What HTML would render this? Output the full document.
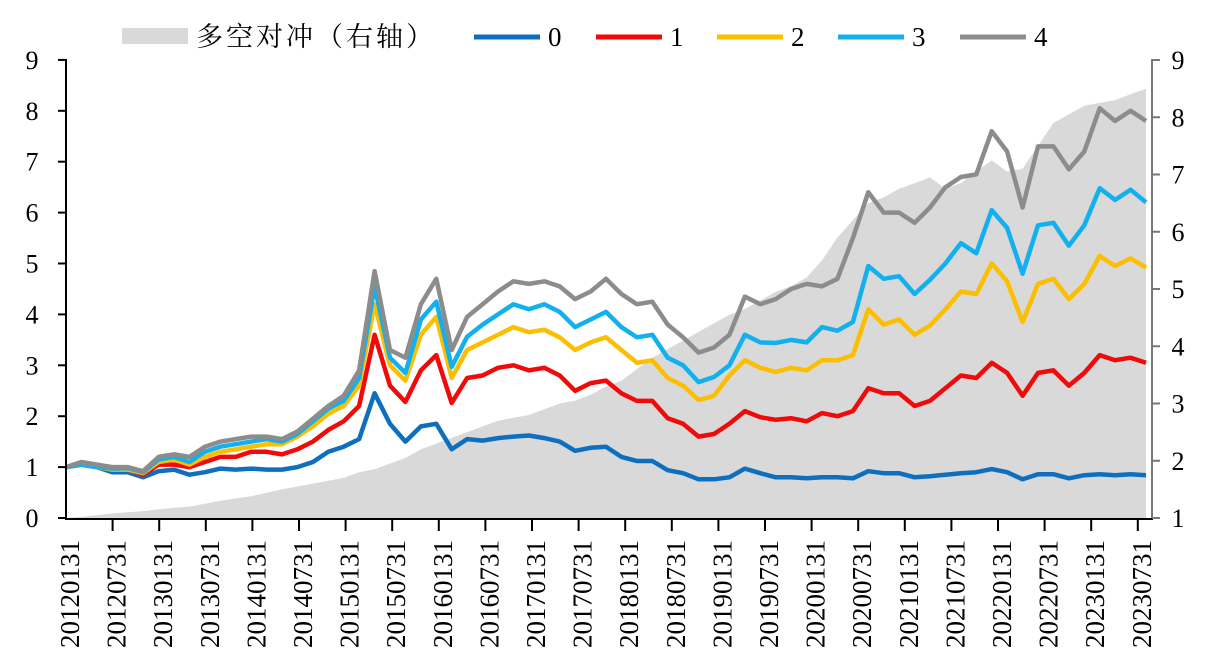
<!DOCTYPE html>
<html><head><meta charset="utf-8"><style>
body{margin:0;background:#fff;}
svg{display:block;font-family:"Liberation Serif","Noto Serif CJK SC",serif;}
</style></head><body>
<svg id="chart" width="1212" height="672"></svg>
<script>
const dateLabels=["20120131","20120731","20130131","20130731","20140131","20140731","20150131","20150731","20160131","20160731","20170131","20170731","20180131","20180731","20190131","20190731","20200131","20200731","20210131","20210731","20220131","20220731","20230131","20230731"];
const leftTicks=[0,1,2,3,4,5,6,7,8,9];
const rightTicks=[1,2,3,4,5,6,7,8,9];
const hedge=[1.0,1.02,1.05,1.08,1.1,1.12,1.15,1.18,1.2,1.25,1.3,1.34,1.38,1.44,1.5,1.55,1.6,1.65,1.7,1.8,1.85,1.95,2.05,2.2,2.3,2.4,2.5,2.6,2.7,2.75,2.8,2.9,3.0,3.05,3.15,3.3,3.4,3.6,3.8,3.95,4.1,4.25,4.4,4.55,4.65,4.8,4.95,5.05,5.2,5.5,5.9,6.2,6.5,6.6,6.75,6.85,6.95,6.75,6.85,7.05,7.25,7.05,7.1,7.5,7.9,8.05,8.2,8.25,8.3,8.4,8.5];
const s0=[1.0,1.05,1.0,0.9,0.9,0.8,0.92,0.95,0.85,0.9,0.97,0.95,0.97,0.95,0.95,1.0,1.1,1.3,1.4,1.55,2.45,1.85,1.5,1.8,1.85,1.35,1.55,1.52,1.57,1.6,1.62,1.57,1.5,1.32,1.38,1.4,1.2,1.12,1.12,0.94,0.88,0.76,0.76,0.8,0.97,0.88,0.8,0.8,0.78,0.8,0.8,0.78,0.92,0.88,0.88,0.8,0.82,0.85,0.88,0.9,0.96,0.9,0.76,0.86,0.86,0.78,0.84,0.86,0.84,0.86,0.84];
const s1=[1.0,1.05,1.0,0.95,0.95,0.85,1.05,1.05,1.0,1.1,1.2,1.2,1.3,1.3,1.25,1.35,1.5,1.73,1.9,2.2,3.6,2.6,2.28,2.9,3.2,2.26,2.75,2.8,2.95,3.0,2.9,2.95,2.8,2.5,2.65,2.7,2.45,2.3,2.3,1.96,1.85,1.6,1.65,1.85,2.1,1.98,1.93,1.96,1.9,2.06,2.0,2.1,2.55,2.45,2.45,2.2,2.3,2.55,2.8,2.75,3.05,2.85,2.4,2.85,2.9,2.6,2.85,3.2,3.1,3.15,3.05];
const s2=[1.0,1.05,1.0,0.95,0.95,0.88,1.1,1.15,1.05,1.2,1.3,1.35,1.4,1.45,1.45,1.6,1.8,2.05,2.2,2.6,4.2,3.0,2.7,3.6,3.95,2.75,3.3,3.45,3.6,3.75,3.65,3.7,3.55,3.3,3.45,3.55,3.3,3.05,3.1,2.75,2.6,2.32,2.4,2.8,3.1,2.95,2.87,2.95,2.9,3.1,3.1,3.2,4.1,3.8,3.9,3.6,3.78,4.1,4.45,4.4,5.0,4.65,3.85,4.6,4.7,4.3,4.6,5.15,4.95,5.1,4.92];
const s3=[1.0,1.05,1.0,0.97,0.98,0.9,1.15,1.2,1.1,1.3,1.4,1.45,1.5,1.55,1.5,1.65,1.9,2.15,2.3,2.75,4.55,3.15,2.85,3.9,4.25,2.97,3.56,3.8,4.0,4.2,4.1,4.2,4.05,3.75,3.9,4.05,3.75,3.55,3.6,3.15,3.0,2.67,2.77,3.0,3.6,3.45,3.44,3.5,3.45,3.75,3.68,3.85,4.95,4.7,4.75,4.4,4.68,5.0,5.4,5.2,6.05,5.7,4.8,5.75,5.8,5.35,5.75,6.48,6.25,6.45,6.2];
const s4=[1.0,1.1,1.05,1.0,1.0,0.92,1.2,1.25,1.2,1.4,1.5,1.55,1.6,1.6,1.55,1.7,1.95,2.2,2.4,2.9,4.85,3.3,3.15,4.2,4.7,3.3,3.95,4.2,4.45,4.65,4.6,4.65,4.55,4.3,4.45,4.7,4.4,4.2,4.25,3.8,3.55,3.25,3.35,3.6,4.35,4.2,4.3,4.5,4.6,4.55,4.7,5.5,6.4,6.0,6.0,5.8,6.1,6.5,6.7,6.75,7.6,7.2,6.1,7.3,7.3,6.85,7.2,8.05,7.8,8.0,7.8];
const seriesNames=["0","1","2","3","4"];
const seriesColors=["#0f6fbf","#f00a0a","#fbbf00","#12b0ef","#8c8c8c"];

const svg=document.getElementById('chart');
const NS='http://www.w3.org/2000/svg';
const X0=66,X1=1146,Y0=518,YL=50.9,YR=57.25;
const xs=i=>X0+i*(X1-X0)/(s0.length-1);
const yl=v=>Y0-v*YL;
const yr=v=>Y0-(v-1)*YR;
function mk(tag,attrs,parent){const e=document.createElementNS(NS,tag);for(const k in attrs)e.setAttribute(k,attrs[k]);(parent||svg).appendChild(e);return e;}

let d='M'+xs(0)+','+Y0;
hedge.forEach((v,i)=>{d+=' L'+xs(i).toFixed(1)+','+yr(v).toFixed(1);});
d+=' L'+xs(hedge.length-1)+','+Y0+' Z';
const area=mk('path',{d:d,fill:'#d9d9d9'});



[s0,s1,s2,s3,s4].forEach((s,k)=>{
  const pts=s.map((v,i)=>xs(i).toFixed(1)+','+yl(v).toFixed(1)).join(' ');
  const pl=mk('polyline',{points:pts,fill:'none',stroke:seriesColors[k],'stroke-width':4.5,'stroke-linejoin':'round'});
  
  
});

const ax=mk('g',{stroke:'#000','stroke-width':2});


mk('line',{x1:66,y1:59,x2:66,y2:519},ax);
mk('line',{x1:1152,y1:59,x2:1152,y2:519,stroke:'#777'},ax);
mk('line',{x1:65,y1:519,x2:1153,y2:519},ax);
leftTicks.forEach(v=>{
  mk('line',{x1:58,y1:yl(v),x2:66,y2:yl(v)},ax);
  const t=mk('text',{x:32,y:yl(v)+9,'font-size':26,'text-anchor':'middle',stroke:'none',fill:'#000'});
  t.textContent=v;
  
  
});
rightTicks.forEach(v=>{
  mk('line',{x1:1152,y1:yr(v),x2:1160,y2:yr(v),stroke:'#777'},ax);
  const t=mk('text',{x:1178,y:yr(v)+9,'font-size':26,'text-anchor':'middle',stroke:'none',fill:'#000'});
  t.textContent=v;
  
  
});
for(let k=1;k<=23;k++){const x=X0+k*46.6;mk('line',{x1:x,y1:519,x2:x,y2:531},ax);}
dateLabels.forEach((l,k)=>{
  const x=70+k*46.6;
  const t=mk('text',{x:0,y:0,'font-size':27,'text-anchor':'end',transform:'translate('+(x+9)+',540) rotate(-90)',fill:'#000'});
  t.textContent=l;
  
  
});

const lg=mk('g',{});


const lr=mk('rect',{x:122,y:28,width:66,height:16,fill:'#d9d9d9'},lg);


const lt=mk('text',{x:196,y:46,'font-size':27,fill:'#000','letter-spacing':'3'},lg);
lt.textContent='多空对冲（右轴）';


const lx=[474,596,717,838,960];
seriesNames.forEach((n,k)=>{
  const ln=mk('line',{x1:lx[k],y1:37,x2:lx[k]+66,y2:37,stroke:seriesColors[k],'stroke-width':5},lg);
  
  
  const t=mk('text',{x:lx[k]+74,y:46,'font-size':27,fill:'#000'},lg);
  t.textContent=n;
  
  
});
</script>
</body></html>
